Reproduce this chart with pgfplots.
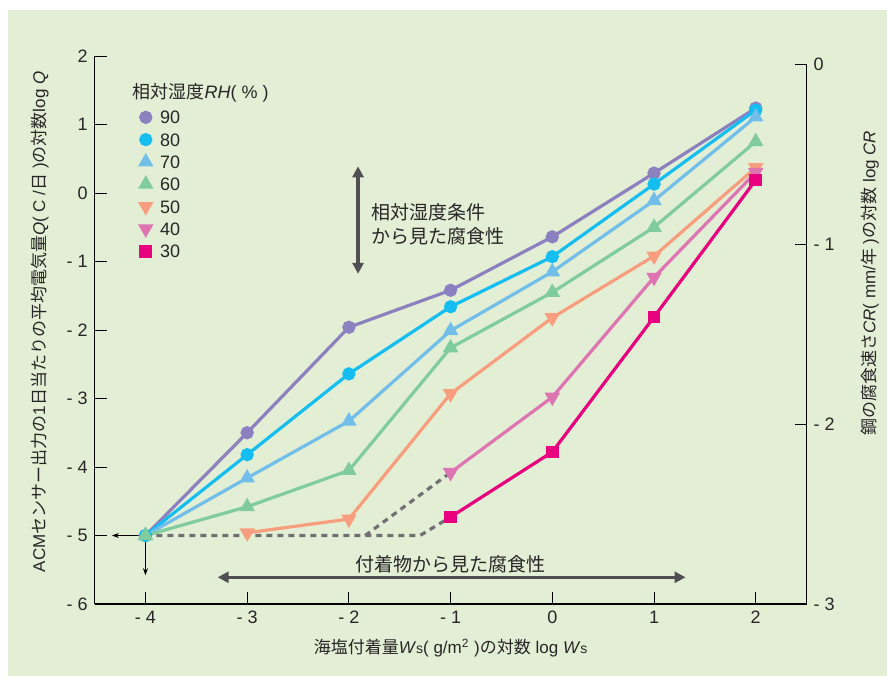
\documentclass[border=0pt]{standalone}
\usepackage{pgfplots}
\pgfplotsset{compat=1.18}
\usepackage{fontspec}
\setmainfont{Liberation Sans}
\newfontfamily\jp{Noto Sans CJK JP}
\usetikzlibrary{arrows.meta}
\definecolor{bg}{HTML}{E3EFD4}
\definecolor{c90}{HTML}{8B80C0}
\definecolor{c80}{HTML}{15BEF0}
\definecolor{c70}{HTML}{72BEEA}
\definecolor{c60}{HTML}{80CC9C}
\definecolor{c50}{HTML}{F89E7E}
\definecolor{c40}{HTML}{DE74B2}
\definecolor{c30}{HTML}{E8007F}
\definecolor{dgray}{HTML}{707072}
\definecolor{agray}{HTML}{505052}
\begin{document}
\begin{tikzpicture}
\fill[white] (-47.3pt,-36pt) rectangle (396.2pt,302pt);
\fill[bg] (-43.3pt,-36pt) rectangle (396.2pt,297pt);
\begin{axis}[
  scale only axis, width=356pt, height=274pt,
  at={(0,0)}, anchor=south west,
  xmin=-4.5, xmax=2.5, ymin=-6, ymax=2,
  axis x line=bottom, axis y line=left,
  axis line style={-, black, line width=0.6pt},
  tick align=inside, major tick length=6pt,
  tick style={black, line width=0.5pt},
  xtick={-4,-3,-2,-1,0,1,2}, xticklabels={- 4,- 3,- 2,- 1,0,1,2},
  ytick={-6,-5,-4,-3,-2,-1,0,1,2}, yticklabels={- 6,- 5,- 4,- 3,- 2,- 1,0,1,2},
  ticklabel style={font=\fontsize{9}{10}\selectfont, text=black!85},
  every axis x label/.style={at={(axis description cs:0.5,-0.08)}, anchor=center},
  every axis y label/.style={at={(axis description cs:-0.077,0.515)}, rotate=90, anchor=center},
  label style={font=\fontsize{8.5}{10}\selectfont, text=black!85},
  xlabel={{\jp 海塩付着量}\textit{W}{\scriptsize s}( g/m\textsuperscript{2} ){\jp の対数} log \textit{W}{\scriptsize s}},
  ylabel={ACM{\jp センサー出力の}1{\jp 日当たりの平均電気量}\textit{Q}( C /{\jp 日} ){\jp の対数}log \textit{Q}},
  clip=false,
  legend image code/.code={\draw[#1] plot coordinates {(0pt,0pt)};},
  legend style={at={(axis cs:-4.05,1.22)}, anchor=north west, draw=none, fill=none,
    inner sep=0pt, font=\fontsize{9}{10}\selectfont, text=black!85,
    row sep=3.65pt, column sep=4.2pt,
    nodes={inner sep=0.5pt, text height=6.5pt, text depth=0pt}},
  legend cell align=left,
  every axis plot/.append style={line width=1.6pt},
]
% dashed guide lines
\addplot[dgray, dash pattern=on 3pt off 2.5pt, line width=1.6pt, forget plot]
  coordinates {(-4,-5) (-1.30,-5) (-1,-4.73)};
\addplot[dgray, dash pattern=on 3pt off 2.5pt, line width=1.6pt, forget plot]
  coordinates {(-1.84,-5) (-1,-4.08)};
% series
\addplot[c90, mark=*, mark size=2.5pt] coordinates
  {(-4,-5) (-3,-3.50) (-2,-1.96) (-1,-1.42) (0,-0.64) (1,0.29) (2,1.24)};
\addlegendentry{90}
\addplot[c80, mark=*, mark size=2.5pt] coordinates
  {(-4,-5) (-3,-3.82) (-2,-2.64) (-1,-1.66) (0,-0.93) (1,0.13) (2,1.21)};
\addlegendentry{80}
\addplot[c70, mark=triangle*, mark size=2.9pt] coordinates
  {(-4,-5) (-3,-4.16) (-2,-3.33) (-1,-2.01) (0,-1.15) (1,-0.11) (2,1.11)};
\addlegendentry{70}
\addplot[c60, mark=triangle*, mark size=2.9pt] coordinates
  {(-4,-5) (-3,-4.58) (-2,-4.05) (-1,-2.26) (0,-1.45) (1,-0.50) (2,0.75)};
\addlegendentry{60}
\addplot[c50, mark=triangle*, mark size=2.9pt, mark options={rotate=180}] coordinates
  {(-3,-4.96) (-2,-4.76) (-1,-2.93) (0,-1.82) (1,-0.92) (2,0.37)};
\addlegendentry{50}
\addplot[c40, mark=triangle*, mark size=2.9pt, mark options={rotate=180}] coordinates
  {(-1,-4.08) (0,-2.98) (1,-1.23) (2,0.30)};
\addlegendentry{40}
\addplot[c30, mark=square*, mark size=2.4pt] coordinates
  {(-1,-4.73) (0,-3.78) (1,-1.81) (2,0.19)};
\addlegendentry{30}
% annotations
\node[anchor=west, font=\fontsize{9}{10}\selectfont, text=black!85, inner sep=0pt]
  at (axis cs:-4.13,1.47) {{\jp 相対湿度}\textit{RH}( \% )};
\draw[black, line width=0.5pt, -{Stealth[length=3.5pt,width=2.5pt]}] (axis cs:-4,-5) -- (axis cs:-4.33,-5);
\draw[black, line width=0.5pt, -{Stealth[length=3.5pt,width=2.5pt]}] (axis cs:-4,-5) -- (axis cs:-4,-5.58);
\draw[agray, line width=1.6pt, {Triangle[length=5.5pt,width=5.5pt]}-{Triangle[length=5.5pt,width=5.5pt]}]
  (axis cs:-3.29,-5.61) -- (axis cs:1.31,-5.61);
\node[font=\fontsize{9.5}{11}\selectfont, text=black!85] at (axis cs:-1.0,-5.42) {\jp 付着物から見た腐食性};
\draw[agray, line width=1.6pt, {Triangle[length=5.5pt,width=5.5pt]}-{Triangle[length=5.5pt,width=5.5pt]}]
  (axis cs:-1.91,0.39) -- (axis cs:-1.91,-1.18);
\node[anchor=west, align=left, font=\fontsize{9.5}{12}\selectfont, text=black!85, inner sep=0pt]
  at (axis cs:-1.78,-0.455) {\jp 相対湿度条件\\\jp から見た腐食性};
\end{axis}
\begin{axis}[
  scale only axis, width=356pt, height=270pt,
  at={(0,0)}, anchor=south west,
  xmin=-4.5, xmax=2.5, ymin=-3, ymax=0,
  axis y line=right, axis x line=none,
  axis line style={-, black, line width=0.6pt},
  tick align=inside, major tick length=6pt,
  tick style={black, line width=0.5pt},
  ytick={-3,-2,-1,0}, yticklabels={- 3,- 2,- 1,0},
  ticklabel style={font=\fontsize{9}{10}\selectfont, text=black!85},
  every axis y label/.style={at={(axis description cs:1.089,0.594)}, rotate=90, anchor=center},
  label style={font=\fontsize{8.5}{10}\selectfont, text=black!85},
  ylabel={{\jp 鋼の腐食速さ}\textit{CR}( mm/{\jp 年} ){\jp の対数} log \textit{CR}},
]
\addplot[draw=none, forget plot] coordinates {(0,-1)};
\end{axis}
\pgfresetboundingbox
\path (-47.3pt,-36pt) rectangle (396.2pt,302pt);
\end{tikzpicture}
\end{document}
